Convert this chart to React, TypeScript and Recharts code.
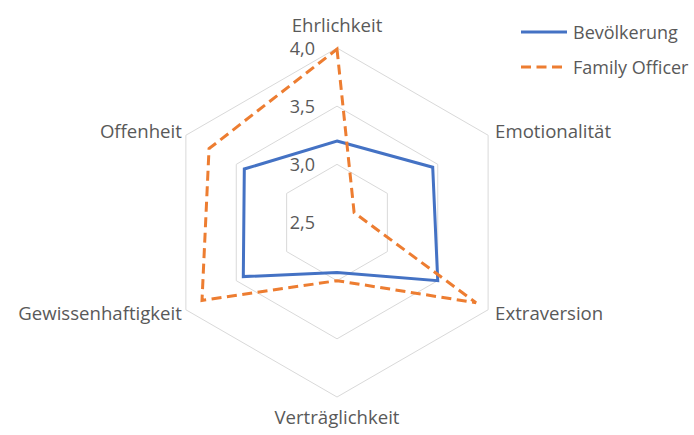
import { Legend, PolarAngleAxis, PolarGrid, PolarRadiusAxis, Radar, RadarChart } from "recharts";

const traits = [
  "Ehrlichkeit",
  "Emotionalität",
  "Extraversion",
  "Verträglichkeit",
  "Gewissenhaftigkeit",
  "Offenheit",
];
const bevoelkerung = [3.2, 3.45, 3.5, 2.93, 3.43, 3.42];
const familyOfficer = [3.99, 2.67, 3.88, 3.0, 3.84, 3.77];
const radiusTicks = [2.5, 3.0, 3.5, 4.0];

const data = traits.map((t, i) => ({ trait: t, bev: bevoelkerung[i], fo: familyOfficer[i] }));

const CX = 337;
const CY = 222.5;
const R = 174.5;
const FONT = "'Open Sans', sans-serif";
const TEXT = "#595959";
const BLUE = "#4472C4";
const ORANGE = "#ED7D31";
const DASH = "10 5.5";

function AngleTick(props: any) {
  const { payload } = props;
  const rad = (payload.coordinate * Math.PI) / 180;
  const cos = Math.cos(rad);
  const sin = Math.sin(rad);
  const vx = CX + R * cos;
  const vy = CY - R * sin;
  let x = vx;
  let y = vy;
  let anchor: "start" | "middle" | "end" = "middle";
  if (Math.abs(cos) < 0.1) {
    y = sin > 0 ? vy - 16 : vy + 27;
  } else {
    anchor = cos > 0 ? "start" : "end";
    x = vx + (cos > 0 ? 7 : -4);
    y = vy + 6 - sin * 7.5;
  }
  return (
    <text x={x} y={y} textAnchor={anchor} fill={TEXT} fontSize={18.6} fontFamily={FONT}>
      {payload.value}
    </text>
  );
}

function RadiusTick(props: any) {
  const { x, y, payload } = props;
  return (
    <text x={x - 22} y={y + 6.8} textAnchor="end" fill={TEXT} fontSize={18} fontFamily={FONT}>
      {Number(payload.value).toFixed(1).replace(".", ",")}
    </text>
  );
}

function LegendBox(props: any) {
  const items = props.payload || [];
  return (
    <svg width={180} height={70}>
      {items.map((it: any, i: number) => (
        <g key={it.value} transform={`translate(0, ${i * 35})`}>
          <line
            x1={1}
            x2={47}
            y1={17}
            y2={17}
            stroke={it.color}
            strokeWidth={3}
            strokeDasharray={i === 1 ? DASH : undefined}
          />
          <text x={53} y={23.5} fill={TEXT} fontSize={18} fontFamily={FONT}>
            {it.value}
          </text>
        </g>
      ))}
    </svg>
  );
}

export default function App() {
  return (
    <div style={{ position: "absolute", left: 0, top: 0, width: 694, height: 435, background: "#fff" }}>
      <RadarChart width={694} height={435} data={data} cx={CX} cy={CY} outerRadius={R}>
        <PolarGrid radialLines={false} stroke="#d9d9d9" strokeWidth={1} />
        <PolarAngleAxis dataKey="trait" axisLine={false} tickLine={false} tick={AngleTick} />
        <PolarRadiusAxis
          angle={90}
          domain={[2.5, 4]}
          ticks={radiusTicks as any}
          tickCount={4}
          axisLine={false}
          tickLine={false}
          tick={RadiusTick}
        />
        <Radar
          name="Bevölkerung"
          dataKey="bev"
          stroke={BLUE}
          strokeWidth={3}
          fill="none"
          fillOpacity={0}
          dot={false}
          isAnimationActive={false}
        />
        <Radar
          name="Family Officer"
          dataKey="fo"
          stroke={ORANGE}
          strokeWidth={3}
          strokeDasharray={DASH}
          fill="none"
          fillOpacity={0}
          dot={false}
          isAnimationActive={false}
        />
        <Legend
          content={LegendBox}
          wrapperStyle={{ position: "absolute", left: 520, top: 15, width: 180 }}
        />
      </RadarChart>
    </div>
  );
}
